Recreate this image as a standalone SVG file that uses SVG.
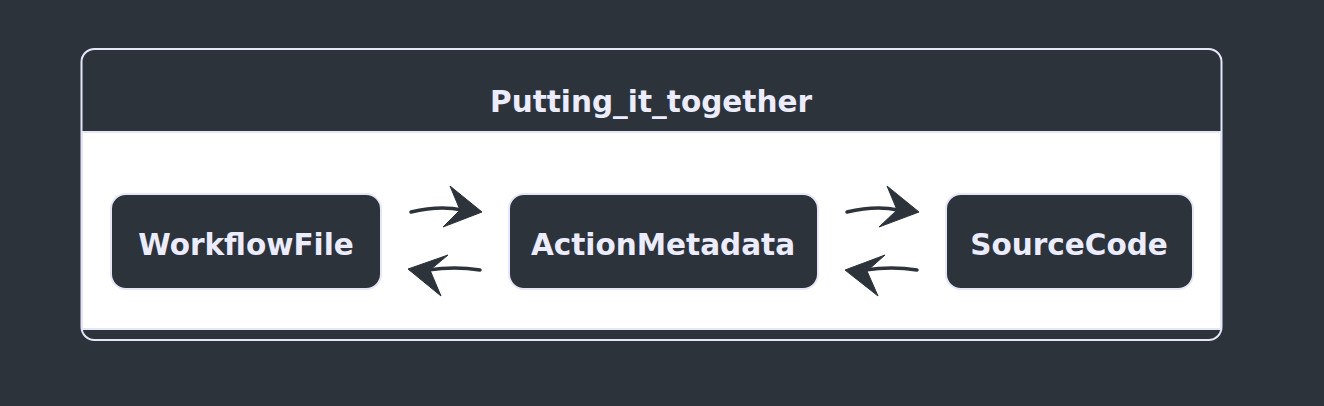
<svg xmlns="http://www.w3.org/2000/svg" width="1324" height="406" viewBox="0 0 1324 406">
<style>
.lbl{font-family:"DejaVu Sans",sans-serif;font-weight:bold;fill:#ececff;text-anchor:middle;font-size:29.5px}
.node{fill:#2d333b;stroke:#e6e6fa;stroke-width:2}
.edge{fill:none;stroke:#2d333b;stroke-width:3.5;stroke-linecap:round}
.head{fill:#2d333b;stroke:#2d333b;stroke-width:1;stroke-linejoin:round}
</style>
<rect width="1324" height="406" fill="#2d333b"/>
<g id="cluster">
<rect x="81.5" y="49" width="1140" height="291" rx="13" fill="#2d333b" stroke="#e6e6fa" stroke-width="2"/>
<rect x="82" y="132" width="1139" height="197" fill="#ffffff" stroke="#e6e6fa" stroke-width="2"/>
<text class="lbl" x="651" y="112">Putting_it_together</text>
</g>
<g id="WorkflowFile">
<rect class="node" x="111" y="194" width="270" height="95" rx="15"/>
<text class="lbl" x="246" y="255">WorkflowFile</text>
</g>
<g id="ActionMetadata">
<rect class="node" x="509" y="194" width="309" height="95" rx="15"/>
<text class="lbl" x="663" y="255">ActionMetadata</text>
</g>
<g id="SourceCode">
<rect class="node" x="946" y="194" width="247" height="95" rx="15"/>
<text class="lbl" x="1069" y="255">SourceCode</text>
</g>
<g id="connectors">
<path class="edge" d="M411,212 Q440,205 462,210"/>
<polygon class="head" points="482,212 450,186 460,210 443,227"/>
<path class="edge" d="M480,270 Q455,266 428,270"/>
<polygon class="head" points="408,269 448,255 430,270 441,296"/>
<path class="edge" d="M847,212 Q876,205 898,210"/>
<polygon class="head" points="919,212 887,186 897,210 879,227"/>
<path class="edge" d="M917,270 Q892,266 865,270"/>
<polygon class="head" points="845,270 885,255 867,271 878,296"/>
</g>
</svg>
